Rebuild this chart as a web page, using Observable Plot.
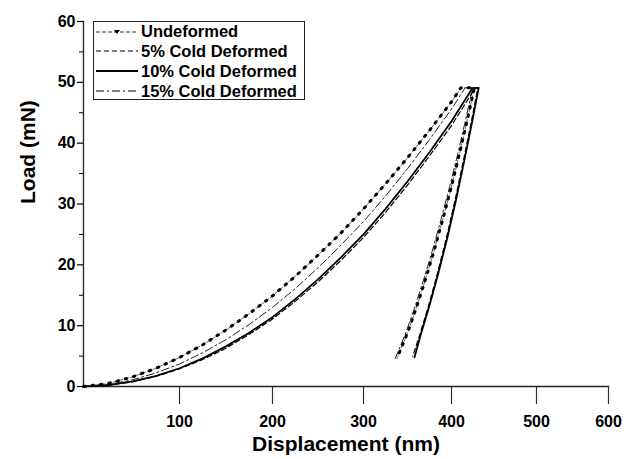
<!DOCTYPE html>
<html><head><meta charset="utf-8">
<script src="https://cdn.jsdelivr.net/npm/d3@7"></script>
<script src="https://cdn.jsdelivr.net/npm/@observablehq/plot@0.6"></script>
<style>
body{margin:0;background:#fff;}
#wrap{position:relative;width:632px;height:459px;font-family:"Liberation Sans",Arial,sans-serif;}
#legend{position:absolute;left:93px;top:21px;width:212px;height:79px;border:1px solid #222;box-sizing:border-box;background:#fff;padding-top:0;}
.row{display:flex;align-items:center;height:20.3px;margin-top:-0.5px;}
.row svg{margin-left:2px;margin-right:3px;flex:none;}
.row span{font-weight:bold;font-size:16.5px;line-height:17px;color:#000;white-space:nowrap;}
</style></head><body><div id="wrap"></div>
<script>
const seriesNames = ["Undeformed", "5% Cold Deformed", "10% Cold Deformed", "15% Cold Deformed"];
const xTicks = [100, 200, 300, 400, 500, 600];
const yTicks = [0, 10, 20, 30, 40, 50, 60];
const yMinorTicks = [5, 15, 25, 35, 45, 55];

const undeformedDisp = [0,25,50,75,100,125,150,175,200,225,250,275,300,325,350,375,400,411, 427,420,410,400,390,380,370,360,350,338];
const undeformedLoad = [0,0.48,1.52,2.96,4.76,6.87,9.29,11.98,14.9,18.1,21.6,25.2,29.2,33.3,37.6,42.1,46.8,49.1, 49.1,44.7,38.6,32.9,27.4,22.2,17.4,12.9,8.8,4.6];

const cold5Disp = [0,25,50,75,100,125,150,175,200,225,250,275,300,325,350,375,400,428, 431,424,414,404,394,384,374,364,356];
const cold5Load = [0,0.19,0.75,1.64,2.9,4.44,6.3,8.57,11.1,14.0,17.2,20.7,24.5,28.6,33.1,37.9,42.9,49.1, 49.1,44.0,37.1,30.5,24.3,18.6,13.3,8.5,5.0];

const cold10Disp = [0,25,50,75,100,125,150,175,200,225,250,275,300,325,350,375,400,425, 432,425,415,405,395,385,375,365,358];
const cold10Load = [0,0.21,0.79,1.72,3.0,4.62,6.6,8.84,11.4,14.36,17.6,21.2,25.0,29.2,33.7,38.5,43.6,49.1, 49.1,44.0,37.1,30.5,24.3,18.6,13.3,8.5,4.8];

const cold15Disp = [0,25,50,75,100,125,150,175,200,225,250,275,300,325,350,375,400,416, 425,418,408,398,388,378,368,358,348,336];
const cold15Load = [0,0.30,1.06,2.2,3.7,5.56,7.7,10.2,13.0,16.1,19.5,23.2,27.1,31.3,35.8,40.6,45.6,49.1, 49.1,44.7,38.6,32.9,27.4,22.2,17.4,12.9,8.8,4.6];

const rows = (xs, ys) => xs.map((d, i) => ({disp: d, load: ys[i]}));
const undeformed = rows(undeformedDisp, undeformedLoad);
const cold5 = rows(cold5Disp, cold5Load);
const cold10 = rows(cold10Disp, cold10Load);
const cold15 = rows(cold15Disp, cold15Load);

const chart = Plot.plot({
  width: 632, height: 459,
  marginLeft: 83, marginRight: 24, marginTop: 21, marginBottom: 73,
  style: {fontFamily: "'Liberation Sans', Arial, sans-serif", fontWeight: "bold", fontSize: "16px", color: "#000", background: "#fff", overflow: "visible"},
  x: {type: "linear", domain: [0, 100, 200, 300, 400, 500, 600], range: [83, 179, 272, 363, 451, 536, 608]},
  y: {domain: [0, 60]},
  marks: [
    Plot.axisX({ticks: xTicks, tickSize: 18, tickPadding: 11, label: null, fontSize: 16, fontWeight: "bold", strokeWidth: 1.2, stroke: "#333"}),
    Plot.axisY({ticks: yTicks, tickSize: 6, tickPadding: 2, label: null, fontSize: 16, fontWeight: "bold", strokeWidth: 1.2}),
    Plot.axisY(yMinorTicks, {tickSize: 4, tickFormat: () => "", label: null, strokeWidth: 1}),
    Plot.frame({anchor: "left", strokeWidth: 1.3, stroke: "#222"}),
    Plot.frame({anchor: "bottom", strokeWidth: 1.6, stroke: "#222"}),
    Plot.text(["Displacement (nm)"], {frameAnchor: "bottom", dy: 64, fontSize: 21, fontWeight: "bold"}),
    Plot.text(["Load (mN)"], {frameAnchor: "left", dx: -55, rotate: -90, fontSize: 21, fontWeight: "bold"}),
    Plot.line(cold15, {x: "disp", y: "load", stroke: "#222", strokeWidth: 1, strokeDasharray: "8,3,2,3"}),
    Plot.line(cold5, {x: "disp", y: "load", stroke: "#000", strokeWidth: 1.2, strokeDasharray: "5,3"}),
    Plot.line(cold10, {x: "disp", y: "load", stroke: "#000", strokeWidth: 1.8}),
    Plot.line(undeformed, {x: "disp", y: "load", stroke: "#444", strokeWidth: 0.8, strokeDasharray: "4,2"}),
    Plot.line(undeformed, {x: "disp", y: "load", stroke: "#000", strokeWidth: 3, strokeDasharray: "1.5,7"})
  ]
});

const wrap = document.getElementById("wrap");
wrap.appendChild(chart);

const samples = [
  {dash: "4,2", width: 0.8, marker: true},
  {dash: "5,3", width: 1.2},
  {dash: null, width: 1.8},
  {dash: "8,3,2,3", width: 1}
];
const legend = document.createElement("div");
legend.id = "legend";
seriesNames.forEach((name, i) => {
  const s = samples[i];
  const row = document.createElement("div");
  row.className = "row";
  let svg = `<svg width="42" height="10"><line x1="0" y1="5" x2="42" y2="5" stroke="#000" stroke-width="${s.width}" ${s.dash ? `stroke-dasharray="${s.dash}"` : ""}/>`;
  if (s.marker) svg += `<path d="M18,3 L24,3 L21,7 Z" fill="#000"/>`;
  svg += `</svg>`;
  row.innerHTML = svg + `<span>${name}</span>`;
  legend.appendChild(row);
});
wrap.appendChild(legend);
</script>
</body></html>
